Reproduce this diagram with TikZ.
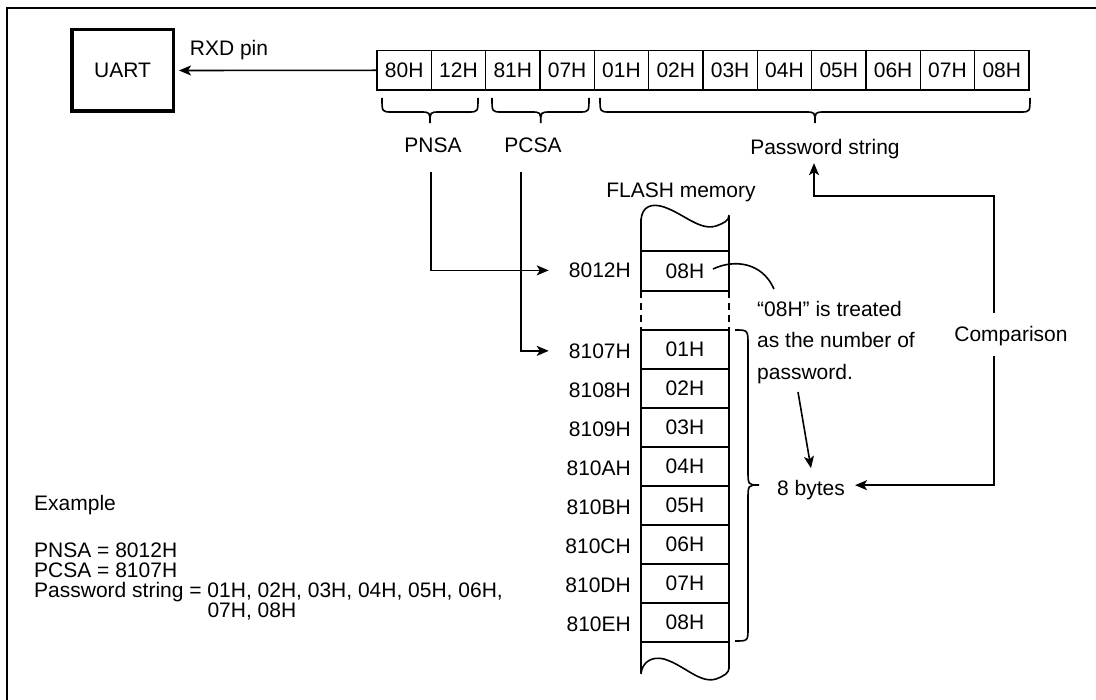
\documentclass[tikz,border=0pt]{standalone}
\usepackage{fontspec}
\setmainfont{Liberation Sans}
\usetikzlibrary{arrows.meta}
\newcommand\hbrc[3]{\draw[ln] (#1,98) .. controls (#1,112) .. (#1+10,112) -- (#3-10,112) .. controls (#3,112) .. (#3,123) .. controls (#3,112) .. (#3+10,112) -- (#2-10,112) .. controls (#2,112) .. (#2,98);}
\begin{document}
\begin{tikzpicture}[x=1pt,y=-1pt,
  every node/.style={font=\fontsize{21}{25}\selectfont},
  ln/.style={line width=1.6pt},
  arr/.style={line width=1.6pt,-{Stealth[length=12pt,width=10pt,inset=3pt]}},
  cell/.style={draw,line width=1.6pt,minimum width=54.33pt,minimum height=39.3pt,inner sep=0pt},
  mcell/.style={draw,line width=1.6pt,minimum width=88pt,minimum height=39pt,inner sep=0pt},
  lbl/.style={inner sep=0pt,anchor=base},
  addr/.style={inner sep=0pt,anchor=base east},
]
\useasboundingbox (0,0) rectangle (1096,700);
% frame
\draw[line width=1.4pt] (7,700) -- (7,8) -- (1096,8);

% UART and received bytes
\node[draw,line width=3.5pt,minimum width=101.5pt,minimum height=81.5pt] (uart) at (122.5,70.5) {UART};
\node[lbl] (rxd) at (229,55.6) {RXD pin};
\foreach \t [count=\i] in {80H,12H,81H,07H,01H,02H,03H,04H,05H,06H,07H,08H}
  \node[cell] (c\i) at ({377+54.33*(\i-0.5)},70.3) {\t};
\draw[arr] (c1.west) -- ([xshift=4pt]uart.east);

% braces
\hbrc{382}{478}{430}
\hbrc{492}{589}{540.7}
\hbrc{600}{1030}{815}
\node[lbl] (pnsa) at (433,152.6) {PNSA};
\node[lbl] (pcsa) at (533,152.6) {PCSA};
\node[lbl] (pwstr) at (825,154.6) {Password string};

% FLASH memory
\node[lbl] (flash) at (681,197.6) {FLASH memory};
\node[mcell,minimum height=40pt] (m0) at (685,271) {08H};
\node[addr] (a0) at (631,277.6) {8012H};
\foreach \v/\a [count=\i] in {01H/8107H,02H/8108H,03H/8109H,04H/810AH,05H/810BH,06H/810CH,07H/810DH,08H/810EH}{
  \node[mcell] (m\i) at (685,{349.5+39*(\i-1)}) {\v};
  \node[addr] (a\i) at (631,{350.5+39*(\i-1)+7.6}) {\a};
}
% column continuation
\draw[ln] (641,219) -- (641,251);
\draw[ln] (729,216) -- (729,251);
\draw[ln,dash pattern=on 7pt off 5pt] (641,291) -- (641,330) (729,291) -- (729,330);
\draw[ln] (641,641) -- (641,673) (729,641) -- (729,669);
\draw[ln] (641,220) .. controls (642,206) and (652,203) .. (664,207) .. controls (684,214) and (700,231) .. (716,226) .. controls (724,223) and (729,221) .. (729,215);
\draw[ln] (641,674) .. controls (642,662) and (652,656) .. (664,659) .. controls (684,665) and (700,684) .. (716,679) .. controls (724,676) and (729,673) .. (729,668);

% pointers
\coordinate (p1) at (431,172);
\coordinate (p2) at (521,172);
\draw[arr] (p1) |- ([xshift=-20pt]a0.west);
\draw[arr] (p2) |- ([xshift=-20pt]a1.west);

% 8 bytes brace
\draw[ln] (735,330) .. controls (748,330) .. (748,345) -- (748,470) .. controls (748,485) .. (759,485) .. controls (748,485) .. (748,500) -- (748,628) .. controls (748,641) .. (735,641);
\node[lbl] (bytes) at (811,495.6) {8 bytes};

% note
\node[anchor=north west,align=left,inner sep=0pt,font=\fontsize{21}{31.5}\selectfont] (note) at (757,301) {“08H” is treated\\as the number of\\password.};
\coordinate (q1) at (713,269);
\coordinate (q2) at (774,289);
\draw[ln] (q1) .. controls (734,259) and (762,262) .. (q2);
\coordinate (n1) at (798,392);
\draw[arr] (n1) -- ([yshift=12pt]bytes.north);

% comparison
\node[lbl] (cmp) at (1011,341.6) {Comparison};
\coordinate (cu) at (994,313);
\coordinate (cd) at (994,356);
\coordinate (k) at (994,196);
\draw[arr] (cu) -- (k) -| ([xshift=-11pt,yshift=-4pt]pwstr.south);
\draw[arr] (cd) |- ([xshift=10pt,yshift=5pt]bytes.east);

% example
\node[anchor=north west,align=left,inner sep=0pt,font=\fontsize{21}{20}\selectfont] (ex) at (34,495) {Example\\[27pt]PNSA = 8012H\\PCSA = 8107H\\Password string = 01H, 02H, 03H, 04H, 05H, 06H,\\\phantom{Password string = }07H, 08H};
\end{tikzpicture}
\end{document}
